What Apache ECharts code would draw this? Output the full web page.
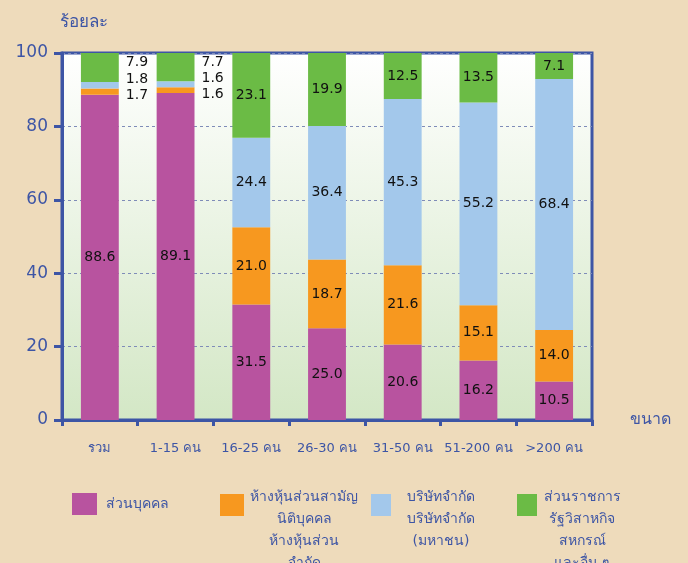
<!DOCTYPE html>
<html><head><meta charset="utf-8">
<script src="https://cdn.jsdelivr.net/npm/echarts@6/dist/echarts.min.js"></script>
<style>html,body{margin:0;padding:0;background:#eedbbb;}#c{width:688px;height:563px;}</style>
</head><body><div id="c"></div>
<script>
const categories = ['รวม', '1-15 คน', '16-25 คน', '26-30 คน', '31-50 คน', '51-200 คน', '>200 คน'];
const seriesNames = ['ส่วนบุคคล', 'ห้างหุ้นส่วนสามัญ\nนิติบุคคล\nห้างหุ้นส่วน\nจำกัด', 'บริษัทจำกัด\nบริษัทจำกัด\n(มหาชน)', 'ส่วนราชการ\nรัฐวิสาหกิจ\nสหกรณ์\nและอื่น ๆ'];
const personal = [88.6, 89.1, 31.5, 25.0, 20.6, 16.2, 10.5];
const partnership = [1.7, 1.6, 21.0, 18.7, 21.6, 15.1, 14.0];
const company = [1.8, 1.6, 24.4, 36.4, 45.3, 55.2, 68.4];
const government = [7.9, 7.7, 23.1, 19.9, 12.5, 13.5, 7.1];
const yTicks = [0, 20, 40, 60, 80, 100];

const colors = ['#b8539f', '#f7981f', '#a3c8eb', '#6bbb45'];
const blue = '#3d55a5';
const font = 'Tahoma, "DejaVu Sans", sans-serif';

function mkData(arr, outsideOffset) {
  return arr.map((v, i) => {
    if (i < 2 && outsideOffset !== null) {
      return { value: v, label: { position: 'right', distance: 7, offset: [0, outsideOffset] } };
    }
    return v;
  });
}

const allSeries = [personal, partnership, company, government];
const offsets = [null, 4, -6, -5];
const series = allSeries.map((arr, k) => ({
  name: seriesNames[k],
  type: 'bar',
  stack: 'total',
  barWidth: '50%',
  itemStyle: { color: colors[k] },
  label: { show: true, position: 'inside', color: '#111', fontSize: 14, fontFamily: font, formatter: p => p.value.toFixed(1) },
  data: mkData(arr, offsets[k])
}));

const legendPos = [
  { left: 67, textW: 70, iw: 25 },
  { left: 215, textW: 110, iw: 24 },
  { left: 366, textW: 90, iw: 20 },
  { left: 512, textW: 80, iw: 20 }
];
const LH = 22;
const legends = seriesNames.map((n, k) => {
  const lines = n.split('\n').length;
  const H = LH * lines;
  const P = Math.max(0, H - LH - 16);
  const top = lines === 1 ? 488 : 485;
  return {
    data: [n],
    left: legendPos[k].left,
    top: top,
    itemWidth: legendPos[k].iw,
    itemHeight: 22,
    icon: 'rect',
    selectedMode: false,
    formatter: name => name.split('\n').map(s => '{a|' + s + '}').join('\n'),
    textStyle: {
      color: blue, fontFamily: font, fontSize: 14,
      padding: [P, 0, 0, 0],
      rich: { a: { width: legendPos[k].textW, align: 'center', lineHeight: LH, color: blue, fontFamily: font, fontSize: 14 } }
    }
  };
});

const chart = echarts.init(document.getElementById('c'));
chart.setOption({
  backgroundColor: '#eedbbb',
  animation: false,
  legend: legends,
  grid: {
    left: 62, right: 96, top: 53, bottom: 143,
    show: true,
    borderColor: blue, borderWidth: 3,
    backgroundColor: new echarts.graphic.LinearGradient(0, 0, 0, 1, [
      { offset: 0, color: '#ffffff' }, { offset: 1, color: '#d3e7c5' }
    ])
  },
  xAxis: {
    type: 'category',
    data: categories,
    name: 'ขนาด',
    nameLocation: 'end',
    nameGap: 38,
    nameTextStyle: { color: blue, fontSize: 16, fontFamily: font, verticalAlign: 'middle', padding: [0, 0, 14, 0] },
    axisLine: { lineStyle: { color: blue, width: 3 } },
    axisTick: { show: true, length: 6, lineStyle: { color: blue, width: 3 } },
    axisLabel: { color: blue, fontSize: 13, fontFamily: font, margin: 22, interval: 0 },
    splitLine: { show: false }
  },
  yAxis: {
    type: 'value',
    min: yTicks[0], max: yTicks[yTicks.length - 1], interval: 20,
    name: 'ร้อยละ',
    nameLocation: 'end',
    nameGap: 22,
    nameTextStyle: { color: blue, fontSize: 17, fontFamily: font, align: 'left', padding: [0, 0, 0, -2] },
    axisLine: { show: true, lineStyle: { color: blue, width: 3 } },
    axisTick: { show: true, length: 8, lineStyle: { color: blue, width: 3 } },
    axisLabel: { color: blue, fontSize: 17, fontFamily: font, margin: 14 },
    splitLine: { show: true, lineStyle: { color: '#7f8cb8', type: [3, 3], width: 1 } }
  },
  series: series
});
</script></body></html>
